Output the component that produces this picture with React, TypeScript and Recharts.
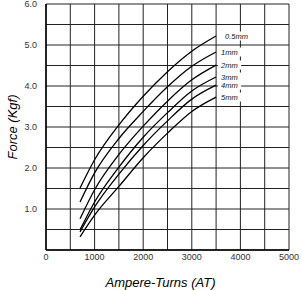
import { LineChart, Line, XAxis, YAxis, CartesianGrid, Label } from 'recharts'

// magnetic force vs ampere-turns for several air gaps
const AMPERE_TURNS = [700, 1000, 1500, 2000, 2500, 3000, 3500]
const GAP_05MM = [1.51, 2.2, 3.05, 3.75, 4.35, 4.85, 5.22]
const GAP_1MM = [1.17, 1.88, 2.72, 3.38, 3.98, 4.48, 4.83]
const GAP_2MM = [0.76, 1.47, 2.33, 3.02, 3.63, 4.15, 4.51]
const GAP_3MM = [0.49, 1.17, 2.02, 2.75, 3.35, 3.88, 4.22]
const GAP_4MM = [0.44, 1.05, 1.85, 2.55, 3.15, 3.68, 4.02]
const GAP_5MM = [0.32, 0.85, 1.55, 2.25, 2.85, 3.38, 3.73]

const SERIES = [
  { key: 'g05', name: '0.5mm', values: GAP_05MM },
  { key: 'g1', name: '1mm', values: GAP_1MM },
  { key: 'g2', name: '2mm', values: GAP_2MM },
  { key: 'g3', name: '3mm', values: GAP_3MM },
  { key: 'g4', name: '4mm', values: GAP_4MM },
  { key: 'g5', name: '5mm', values: GAP_5MM },
]

const X_TICKS = [0, 500, 1000, 1500, 2000, 2500, 3000, 3500, 4000, 4500, 5000]
const Y_TICKS = [0, 0.5, 1, 1.5, 2, 2.5, 3, 3.5, 4, 4.5, 5, 5.5, 6]

const data = AMPERE_TURNS.map((at, i) => {
  const row: Record<string, number> = { at }
  SERIES.forEach((s) => {
    row[s.key] = s.values[i]
  })
  return row
})

const LAST = AMPERE_TURNS.length - 1
const FONT = 'Liberation Sans, Arial, sans-serif'

function EndLabel(props: any) {
  const { x, y, index, text } = props
  if (index !== LAST) return null
  const first = text === '0.5mm'
  return (
    <g>
      <rect
        x={x + (first ? 6 : 2)}
        y={y - 4.5}
        width={first ? 30 : 23}
        height={9}
        fill="#fff"
      />
      <text
        x={x + (first ? 9 : 5)}
        y={y}
        dy={2.8}
        fontSize={7.5}
        fontStyle="italic"
        fontFamily={FONT}
        fill="#111"
      >
        {text}
      </text>
    </g>
  )
}

const tickStyle = { fontSize: 9, fill: '#333', fontFamily: FONT }

export default function App() {
  return (
    <div style={{ width: 302, height: 290, background: '#fff' }}>
      <style>{'body{margin:0}'}</style>
      <LineChart
        width={302}
        height={290}
        data={data}
        margin={{ top: 4, right: 13, bottom: 0, left: 0 }}
      >
        <CartesianGrid stroke="#222" strokeWidth={1} />
        <XAxis
          dataKey="at"
          type="number"
          domain={[0, 5000]}
          ticks={X_TICKS}
          tickFormatter={(v: number) => (v % 1000 === 0 ? String(v) : '')}
          tick={tickStyle}
          tickLine={false}
          tickSize={0}
          tickMargin={4}
          axisLine={{ stroke: '#000', strokeWidth: 1.5 }}
          height={40}
          interval={0}
        >
          <Label
            value="Ampere-Turns (AT)"
            position="insideBottom"
            offset={3}
            dx={-7}
            style={{ fontSize: 13, fontStyle: 'italic', fill: '#000', fontFamily: FONT }}
          />
        </XAxis>
        <YAxis
          type="number"
          domain={[0, 6]}
          ticks={Y_TICKS}
          tickFormatter={(v: number) => (v > 0 && Number.isInteger(v) ? v.toFixed(1) : '')}
          tick={tickStyle}
          tickLine={false}
          tickSize={0}
          tickMargin={9}
          axisLine={{ stroke: '#000', strokeWidth: 1.5 }}
          width={46}
          interval={0}
        >
          <Label
            value="Force (Kgf)"
            angle={-90}
            position="insideLeft"
            offset={12}
            style={{ fontSize: 13, fontStyle: 'italic', fill: '#000', fontFamily: FONT, textAnchor: 'middle' }}
          />
        </YAxis>
        {SERIES.map((s) => (
          <Line
            key={s.key}
            dataKey={s.key}
            type="monotone"
            stroke="#000"
            strokeWidth={1.3}
            dot={false}
            isAnimationActive={false}
            label={(p: any) => <EndLabel {...p} text={s.name} />}
          />
        ))}
      </LineChart>
    </div>
  )
}
